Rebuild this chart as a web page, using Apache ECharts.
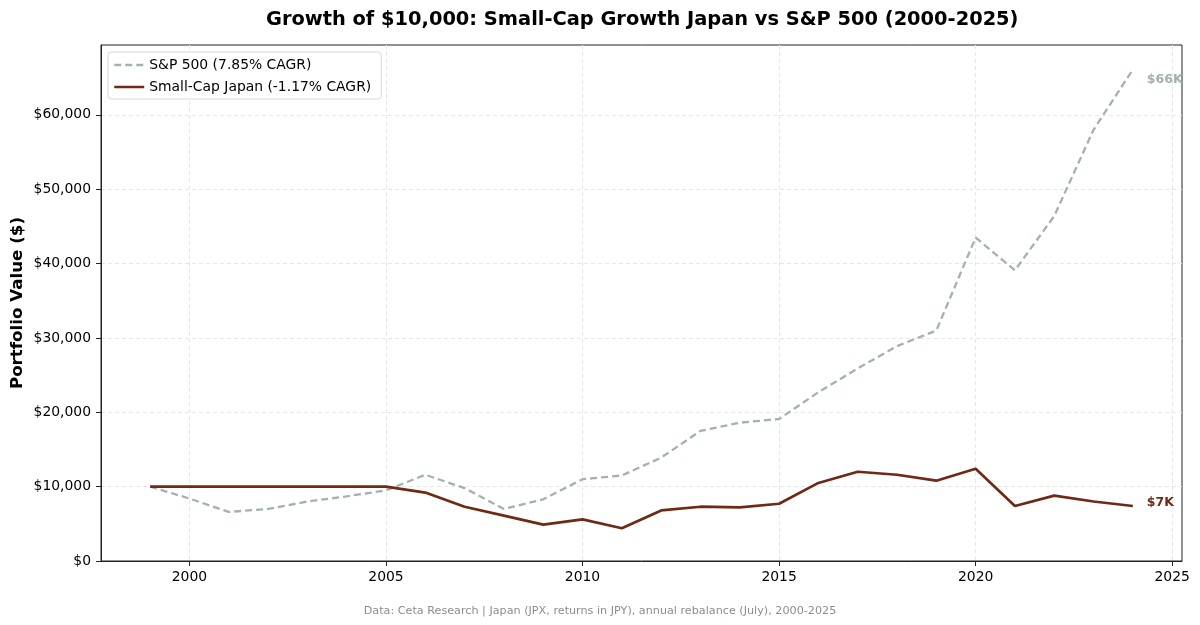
<!DOCTYPE html>
<html>
<head>
<meta charset="utf-8">
<script src="https://cdn.jsdelivr.net/npm/echarts@6/dist/echarts.min.js"></script>
<style>html,body{margin:0;padding:0;background:#fff}#c{width:1200px;height:625px}</style>
</head>
<body>
<div id="c"></div>
<script>
const years = [1999,2000,2001,2002,2003,2004,2005,2006,2007,2008,2009,2010,2011,2012,2013,2014,2015,2016,2017,2018,2019,2020,2021,2022,2023,2024];
const sp500 = [10000,8400,6600,7000,8000,8700,9500,11600,9800,7000,8300,11000,11500,13900,17500,18600,19100,22700,25900,28900,31000,43500,39100,46400,58000,66100];
const japan = [10000,10000,10000,10000,10000,10000,10000,9200,7300,6100,4900,5600,4400,6800,7300,7200,7700,10500,12000,11600,10800,12400,7400,8800,8000,7400];
const xTicks = [2000,2005,2010,2015,2020,2025];
const yTicks = [0,10000,20000,30000,40000,50000,60000];
const spName = 'S&P 500 (7.85% CAGR)';
const jpName = 'Small-Cap Japan (-1.17% CAGR)';
const spEnd = '$66K';
const jpEnd = '$7K';

const FONT = 'DejaVu Sans';
const chart = echarts.init(document.getElementById('c'));
const fmt = v => '$' + v.toLocaleString('en-US');
chart.setOption({
  animation: false,
  textStyle: {fontFamily: FONT},
  title: [{
    text: 'Growth of $10,000: Small-Cap Growth Japan vs S&P 500 (2000-2025)',
    left: 261, top: 5,
    textStyle: {fontFamily: FONT, fontSize: 19.4, fontWeight: 'bold', color: '#000'}
  }, {
    text: 'Data: Ceta Research | Japan (JPX, returns in JPY), annual rebalance (July), 2000-2025',
    left: 'center', top: 601,
    textStyle: {fontFamily: FONT, fontSize: 11.2, fontWeight: 'normal', color: '#8a8f8e'}
  }],
  legend: {
    left: 108, top: 52, orient: 'vertical',
    itemWidth: 30, itemHeight: 10, itemGap: 8,
    padding: [6, 10, 5, 5],
    backgroundColor: '#fff', borderColor: '#d8d8d8', borderWidth: 1, borderRadius: 3,
    textStyle: {fontFamily: FONT, fontSize: 13.9, color: '#000'},
    itemStyle: {color: 'rgba(0,0,0,0)', borderWidth: 0, opacity: 0},
    lineStyle: {width: 2.5},
    data: [spName, jpName]
  },
  grid: {left: 101, right: 18, top: 45, bottom: 64, show: true, borderColor: '#222', borderWidth: 1, outerBoundsMode: 'none', containLabel: false},
  xAxis: {
    type: 'value', min: 1997.75, max: 2025.25,
    axisLine: {show: true, lineStyle: {color: '#222'}},
    axisTick: {show: true, length: 5, customValues: xTicks, lineStyle: {color: '#222'}},
    axisLabel: {customValues: xTicks, formatter: v => String(v), fontSize: 13.9, color: '#000', fontFamily: FONT, margin: 9},
    splitLine: {show: true, lineStyle: {color: '#e6e6e6', type: [4, 3]}}
  },
  yAxis: {
    type: 'value', min: 0, max: 69400,
    name: 'Portfolio Value ($)', nameLocation: 'middle', nameGap: 75, nameMoveOverlap: false,
    nameTextStyle: {fontFamily: FONT, fontSize: 16.7, fontWeight: 'bold', color: '#000'},
    axisLine: {show: true, lineStyle: {color: '#222'}},
    axisTick: {show: true, length: 5, customValues: yTicks, lineStyle: {color: '#222'}},
    axisLabel: {customValues: yTicks, formatter: fmt, fontSize: 13.9, color: '#000', fontFamily: FONT, margin: 10},
    splitLine: {show: true, lineStyle: {color: '#e6e6e6', type: [4, 3]}}
  },
  series: [{
    name: spName, type: 'line', symbol: 'none',
    data: years.map((y, i) => [y, sp500[i]]),
    color: '#a3b2af',
    lineStyle: {width: 2.3, type: [7, 4], color: '#a3b2af'},
    endLabel: {show: true, formatter: spEnd, color: '#a3b2af', fontWeight: 'bold', fontSize: 12.5, fontFamily: FONT, offset: [6, 10]}
  }, {
    name: jpName, type: 'line', symbol: 'none',
    data: years.map((y, i) => [y, japan[i]]),
    color: '#6e2a14',
    lineStyle: {width: 2.7, color: '#6e2a14'},
    endLabel: {show: true, formatter: jpEnd, color: '#6e2a14', fontWeight: 'bold', fontSize: 12.5, fontFamily: FONT, offset: [6, -3]}
  }]
});
</script>
</body>
</html>
